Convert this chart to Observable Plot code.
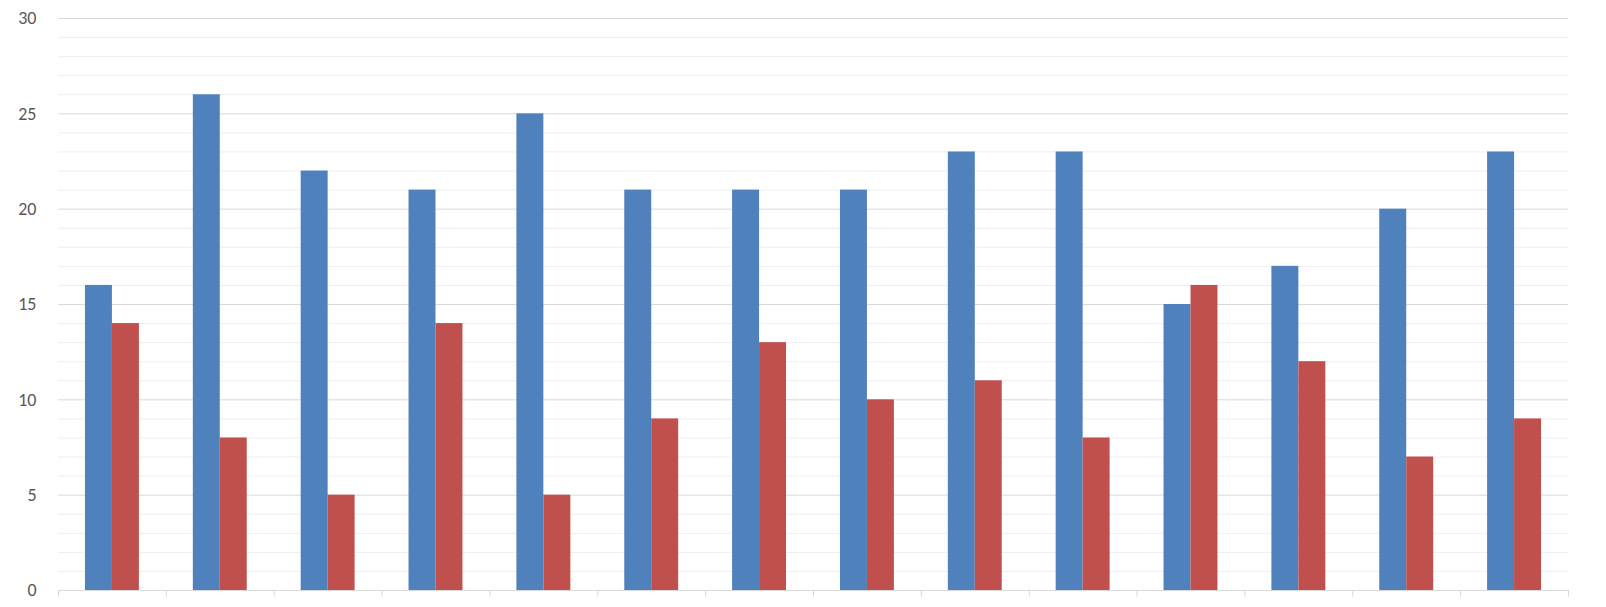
<!DOCTYPE html>
<html lang="en">
<head>
<meta charset="UTF-8">
<title>Grouped bars</title>
<style>
  body { margin: 0; background: #fff; overflow: hidden; font-family: Calibri, Carlito, "Liberation Sans", sans-serif; }
  #chart svg { display: block; }
</style>
<script src="https://cdn.jsdelivr.net/npm/d3@7"></script>
<script src="https://cdn.jsdelivr.net/npm/@observablehq/plot@0.6"></script>
</head>
<body>
<div id="chart"></div>
<script>
  // Values
  const groups = d3.range(14);
  const seriesA = [16, 26, 22, 21, 25, 21, 21, 21, 23, 23, 15, 17, 20, 23];
  const seriesB = [14, 8, 5, 14, 5, 9, 13, 10, 11, 8, 16, 12, 7, 9];
  const yTicks = [0, 5, 10, 15, 20, 25, 30];

  const rows = groups.flatMap(i => [
    {i, s: "A", v: seriesA[i], x1: i + 0.25, x2: i + 0.5},
    {i, s: "B", v: seriesB[i], x1: i + 0.5, x2: i + 0.75}
  ]);
  const minor = d3.range(1, 30).filter(d => d % 5 !== 0);
  const bounds = d3.range(0, 15);

  const plot = Plot.plot({
    width: 1606,
    height: 607,
    marginTop: 18,
    marginBottom: 17,
    marginLeft: 58,
    marginRight: 38,
    x: {domain: [0, 14], axis: null},
    y: {domain: [0, 30], ticks: yTicks, tickSize: 0, tickPadding: 22, label: null},
    color: {domain: ["A", "B"], range: ["#4F81BD", "#C0504D"]},
    style: {fontSize: "18px", color: "#595959", fontFamily: "Calibri, Carlito, 'Liberation Sans', sans-serif"},
    marks: [
      Plot.ruleY(minor, {stroke: "#eeeeee"}),
      Plot.ruleY(yTicks, {stroke: "#d9d9d9"}),
      Plot.rectY(rows, {x1: "x1", x2: "x2", y: "v", fill: "s"}),
      Plot.ruleX(bounds, {y1: 0, y2: -0.35, stroke: "#d9d9d9", clip: false}),
      Plot.ruleY([0], {stroke: "#d9d9d9"})
    ]
  });
  document.getElementById("chart").appendChild(plot);
</script>
</body>
</html>
